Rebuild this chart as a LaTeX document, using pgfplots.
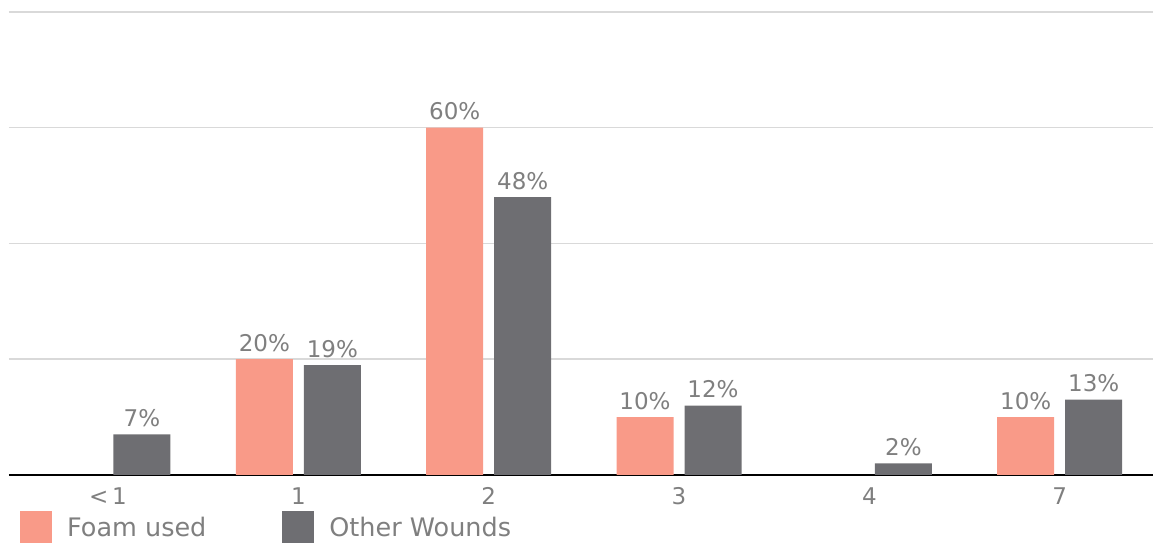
\documentclass[border=0pt]{standalone}
\usepackage{fontspec}
\setmainfont{DejaVu Sans}
\usepackage{pgfplots}
\pgfplotsset{compat=1.18}
\usetikzlibrary{calc}
\definecolor{foam}{HTML}{F99A88}
\definecolor{other}{HTML}{6E6E72}
\definecolor{txt}{HTML}{7F7F7F}
\definecolor{gridc}{HTML}{D9D9D9}
\begin{document}
\begin{tikzpicture}
\begin{axis}[name=ax, scale only axis, width=1144bp, height=463bp,
 xmin=-0.52, xmax=5.49, ymin=0, ymax=80,
 ybar=11bp, bar width=57bp,
 xtick={0,...,5}, xticklabels={<\,1,1,2,3,4,7},
 ytick={20,40,60,80}, yticklabels={}, ymajorgrids,
 grid style={gridc, line width=1.5bp},
 major tick length=0, axis line style={draw=none},
 extra y ticks={0}, extra y tick labels={},
 extra y tick style={grid style={black, line width=1.3bp}},
 tick label style={font=\fontsize{23bp}{27bp}\selectfont, text=txt},
 xticklabel style={yshift=-9bp},
 nodes near coords={\pgfmathprintnumber[assume math mode=true]{\pgfplotspointmeta}\%},
 every node near coord/.append style={font=\fontsize{23bp}{27bp}\selectfont, text=txt, yshift=4bp},
 legend style={at={(rel axis cs:0,0)}, anchor=north west, xshift=11bp, yshift=-36bp,
   draw=none, fill=none, inner sep=0pt, legend columns=2,
   font=\fontsize{25.5bp}{30bp}\selectfont, text=txt,
   /tikz/every odd column/.append style={column sep=13bp},
   /tikz/every even column/.append style={column sep=74bp}},
 legend cell align=left,
 legend image code/.code={\fill[#1] (0bp,-16bp) rectangle (32bp,16bp);},
]
\addplot[fill=foam, draw=none] coordinates {(1,20) (2,60) (3,10) (5,10)};
\addplot[fill=other, draw=none] coordinates {(0,7) (1,19) (2,48) (3,12) (4,2) (5,13)};
\legend{Foam used, Other Wounds}
\end{axis}
\pgfresetboundingbox
\path ($(ax.south west)+(-9bp,-71bp)$) rectangle ($(ax.north east)+(0bp,12bp)$);
\end{tikzpicture}
\end{document}
